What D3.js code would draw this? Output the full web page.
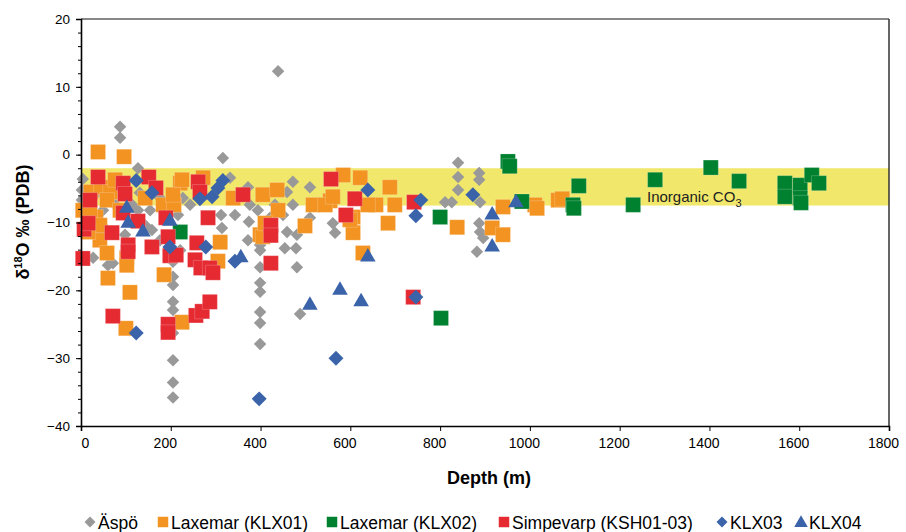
<!DOCTYPE html>
<html>
<head>
<meta charset="utf-8">
<script src="https://cdn.jsdelivr.net/npm/d3@7"></script>
<style>
  body { margin: 0; background: #fff; }
  text { font-family: "Liberation Sans", Arial, sans-serif; }
</style>
</head>
<body>
<svg id="chart" width="906" height="532"></svg>
<script>
// depth (m) / delta18O (per mil PDB)
var aspoDepth = [4, 2, 2, 7, 20, 27, 42, 60, 71, 53, 76, 87, 87, 127, 131, 114, 127, 154, 143, 158, 176, 187, 216, 227, 243, 31, 49, 98, 176, 221,
  205, 205, 205, 205, 205, 205, 205, 205, 205, 205,
  316, 332, 372, 376, 394, 312, 314, 374, 372, 343,
  399, 399, 399, 399, 399, 399, 399, 399,
  439, 472, 510, 459, 472, 454, 479, 481, 450, 459, 481, 510, 561, 566, 488, 421, 432,
  840, 840, 840, 826, 811, 887, 887, 889, 887, 889, 896, 882];
var aspoD18O = [-3.6, -5.2, -6.7, -8.9, -9.9, -15.2, -11.8, -16.3, -16.0, -10.8, -7.4, 4.1, 2.5, -2.0, -5.6, -7.4, -8.2, -8.2, -10.4, -11.1, -6.4, -8.2, -8.9, -6.4, -7.4, -5.9, -8.2, -11.8, -12.6, -14.1,
  -18.0, -19.2, -21.7, -22.9, -26.3, -30.3, -33.6, -35.8, -14.1, -15.8,
  -0.5, -3.4, -4.8, -7.4, -8.2, -8.9, -10.8, -9.9, -12.6, -8.9,
  -13.3, -14.1, -16.6, -18.9, -20.2, -23.2, -24.8, -27.9,
  12.3, -4.0, -4.8, -5.5, -7.4, -13.8, -13.8, -16.6, -8.9, -11.4, -11.8, -9.3, -10.1, -11.5, -23.5, -9.3, -7.4,
  -1.2, -3.3, -5.2, -7.0, -7.0, -2.7, -3.7, -7.0, -10.1, -11.4, -12.3, -14.3];

var klx01Depth = [38, 96, 22, 45, 65, 33, 4, 20, 58, 42, 58, 102, 102, 60, 109, 100, 185, 225, 310, 305, 183, 207, 221, 205, 225, 272, 339, 405, 437, 439,
  399, 405, 499, 517, 584, 622, 555, 544, 606, 657, 688, 699, 684, 606, 628, 639, 599, 838, 940, 916, 940, 1011, 1016, 1063, 1072,
  76, 87, 42, 16, 143, 410, 561];
var klx01D18O = [0.4, -0.3, -5.5, -4.8, -5.5, -9.2, -8.2, -8.6, -6.7, -12.6, -14.5, -15.2, -16.3, -18.2, -20.3, -25.6, -17.7, -24.7, -12.9, -15.7, -7.4, -7.4, -4.2, -5.9, -3.7, -3.4, -6.4, -5.9, -5.2, -8.2,
  -11.8, -12.1, -10.5, -7.4, -3.0, -3.4, -6.8, -7.4, -9.2, -7.4, -4.8, -7.4, -10.1, -11.5, -14.5, -7.4, -9.6, -10.7, -7.7, -10.8, -11.8, -7.4, -7.9, -6.7, -6.5,
  -3.7, -8.2, -10.4, -11.4, -6.4, -10.1, -6.2];

var klx02Depth = [221, 800, 802, 951, 955, 982, 1096, 1098, 1109, 1230, 1279, 1403, 1466, 1568, 1568, 1602, 1602, 1604, 1628, 1644];
var klx02D18O = [-11.4, -9.2, -24.1, -1.0, -1.7, -6.9, -7.4, -7.9, -4.6, -7.4, -3.7, -1.9, -3.9, -4.2, -6.2, -4.5, -6.4, -7.1, -3.0, -4.2];

var simpDepth = [38, 20, 94, 98, 151, 167, 261, 265, 361, 7, 16, 69, 94, 105, 105, 127, 158, 189, 194, 198, 212, 258, 283, 254, 267, 287, 294,
  4, 71, 194, 194, 256, 270, 287, 423, 423, 423, 557, 610, 590, 742, 740];
var simpD18O = [-3.3, -6.7, -4.2, -5.8, -3.3, -4.9, -4.0, -5.5, -5.9, -11.0, -10.1, -11.5, -8.6, -13.3, -14.3, -9.8, -13.6, -9.3, -12.1, -14.9, -14.8, -13.0, -9.3, -15.5, -16.7, -16.7, -17.4,
  -15.3, -23.8, -25.0, -26.2, -23.7, -23.1, -21.7, -10.4, -11.9, -16.0, -3.6, -6.5, -8.9, -7.0, -21.0];

var klx03Depth = [123, 158, 265, 292, 305, 316, 198, 278, 123, 397, 568, 639, 757, 746, 746, 873, 343];
var klx03D18O = [-3.8, -5.6, -6.5, -6.2, -4.9, -3.8, -13.6, -13.6, -26.3, -36.0, -30.0, -5.2, -6.7, -9.0, -21.0, -5.9, -15.7];

var klx04Depth = [102, 105, 138, 198, 356, 510, 577, 624, 639, 916, 916, 969];
var klx04D18O = [-7.9, -10.1, -11.4, -9.8, -15.2, -22.2, -20.0, -21.7, -15.1, -8.9, -13.6, -7.1];

var seriesNames = ['Äspö', 'Laxemar (KLX01)', 'Laxemar (KLX02)', 'Simpevarp (KSH01-03)', 'KLX03', 'KLX04'];
var bandRange = [-2, -7.5];

var series = [
  { name: seriesNames[0], depth: aspoDepth, val: aspoD18O, shape: 'diamond', size: 78, color: '#999999' },
  { name: seriesNames[1], depth: klx01Depth, val: klx01D18O, shape: 'square', size: 225, color: '#F39321' },
  { name: seriesNames[2], depth: klx02Depth, val: klx02D18O, shape: 'square', size: 225, color: '#00812F' },
  { name: seriesNames[3], depth: simpDepth, val: simpD18O, shape: 'square', size: 225, color: '#E52A32' },
  { name: seriesNames[4], depth: klx03Depth, val: klx03D18O, shape: 'diamond', size: 112, color: '#3A63A9' },
  { name: seriesNames[5], depth: klx04Depth, val: klx04D18O, shape: 'triangle', size: 105, color: '#3A63A9' }
];

(function() {
  'use strict';
var svg = d3.select('#chart');
var mLeft = 81, mRight = 889, mTop = 19, mBottom = 426;

var x = d3.scaleLinear().domain([0, 1800]).range([mLeft, mRight]);
var y = d3.scaleLinear().domain([-40, 20]).range([mBottom, mTop]);

function symbolPath(shape, size) {
  if (shape === 'triangle') return d3.symbol().type(d3.symbolTriangle).size(size)();
  return d3.symbol().type(d3.symbolSquare).size(size)();
}

// inorganic CO3 band
svg.append('rect')
  .attr('x', x(0) + 1)
  .attr('y', y(bandRange[0]))
  .attr('width', x(1800) - x(0) - 1)
  .attr('height', y(bandRange[1]) - y(bandRange[0]))
  .attr('fill', '#F1E86B');

var lbl = svg.append('text')
  .attr('x', 647)
  .attr('y', 202)
  .attr('font-size', 15)
  .attr('fill', '#222');
lbl.append('tspan').text('Inorganic CO');
lbl.append('tspan').attr('dy', 5).attr('font-size', 11).text('3');

// points
series.forEach(function(s) {
  var pts = s.depth.map(function(d, i) { return [d, s.val[i]]; });
  svg.append('g').selectAll('path')
      .data(pts)
    .enter().append('path')
      .attr('d', symbolPath(s.shape, s.size))
      .attr('transform', function(d) {
        return 'translate(' + x(d[0]) + ',' + y(d[1]) + ')' + (s.shape === 'diamond' ? ' rotate(45)' : '');
      })
      .attr('fill', s.color)
      .attr('stroke', s.shape === 'square' ? 'rgba(255,255,255,0.35)' : 'none')
      .attr('stroke-width', 0.6);
});

// frame
svg.append('line').attr('x1', mLeft).attr('x2', mRight).attr('y1', mTop).attr('y2', mTop)
  .attr('stroke', '#111').attr('stroke-width', 1.2);
svg.append('line').attr('x1', mRight).attr('x2', mRight).attr('y1', mTop).attr('y2', mBottom)
  .attr('stroke', '#333').attr('stroke-width', 1.5);

// y axis with minor ticks
var yAxis = svg.append('g').attr('transform', 'translate(' + mLeft + ',0)');
yAxis.append('g')
  .call(d3.axisLeft(y).tickValues(d3.range(-40, 21, 2)).tickSize(3).tickFormat(''))
  .call(function(g) { g.select('.domain').remove(); });
yAxis.append('g')
  .call(d3.axisLeft(y).tickValues(d3.range(-40, 21, 10)).tickSize(5).tickPadding(6))
  .call(function(g) { g.select('.domain').attr('stroke', '#000').attr('stroke-width', 1.6); })
  .call(function(g) { g.selectAll('text').attr('font-size', 13.5).attr('font-family', '"Liberation Sans", Arial, sans-serif').attr('fill', '#000'); });
yAxis.selectAll('line').attr('stroke', '#000');

var xAxis = svg.append('g').attr('transform', 'translate(0,' + mBottom + ')');
xAxis.call(d3.axisBottom(x).tickValues(d3.range(0, 1801, 200)).tickSize(5).tickPadding(7).tickFormat(d3.format('d')))
  .call(function(g) { g.select('.domain').attr('stroke', '#000').attr('stroke-width', 1.6); })
  .call(function(g) {
    g.selectAll('text').attr('font-size', 14).attr('font-family', '"Liberation Sans", Arial, sans-serif')
      .attr('fill', '#000')
      .attr('dx', function(d) { return d === 0 ? 4 : -6; });
  });
xAxis.selectAll('line').attr('stroke', '#000');

// axis titles
svg.append('text')
  .attr('x', 489).attr('y', 484)
  .attr('text-anchor', 'middle')
  .attr('font-size', 18).attr('font-weight', 'bold')
  .text('Depth (m)');

var yt = svg.append('text')
  .attr('transform', 'translate(29,222) rotate(-90)')
  .attr('text-anchor', 'middle')
  .attr('font-size', 18).attr('font-weight', 'bold');
yt.append('tspan').text('δ');
yt.append('tspan').attr('dy', -7).attr('font-size', 11).text('18');
yt.append('tspan').attr('dy', 7).text('O ‰ (PDB)');

// legend
var legX = [90, 163, 332, 504, 722, 801];
var leg = svg.append('g');
series.forEach(function(s, i) {
  var g = leg.append('g').attr('transform', 'translate(' + legX[i] + ',522)');
  var sz = s.shape === 'square' ? 110 : (s.shape === 'triangle' ? 80 : 60);
  g.append('path')
    .attr('d', symbolPath(s.shape, sz))
    .attr('transform', s.shape === 'diamond' ? 'rotate(45)' : (s.shape === 'triangle' ? 'translate(0,1)' : ''))
    .attr('fill', s.color);
  g.append('text')
    .attr('x', 8).attr('y', 7)
    .attr('font-size', 17.5)
    .text(s.name);
});
}());
</script>
</body>
</html>
